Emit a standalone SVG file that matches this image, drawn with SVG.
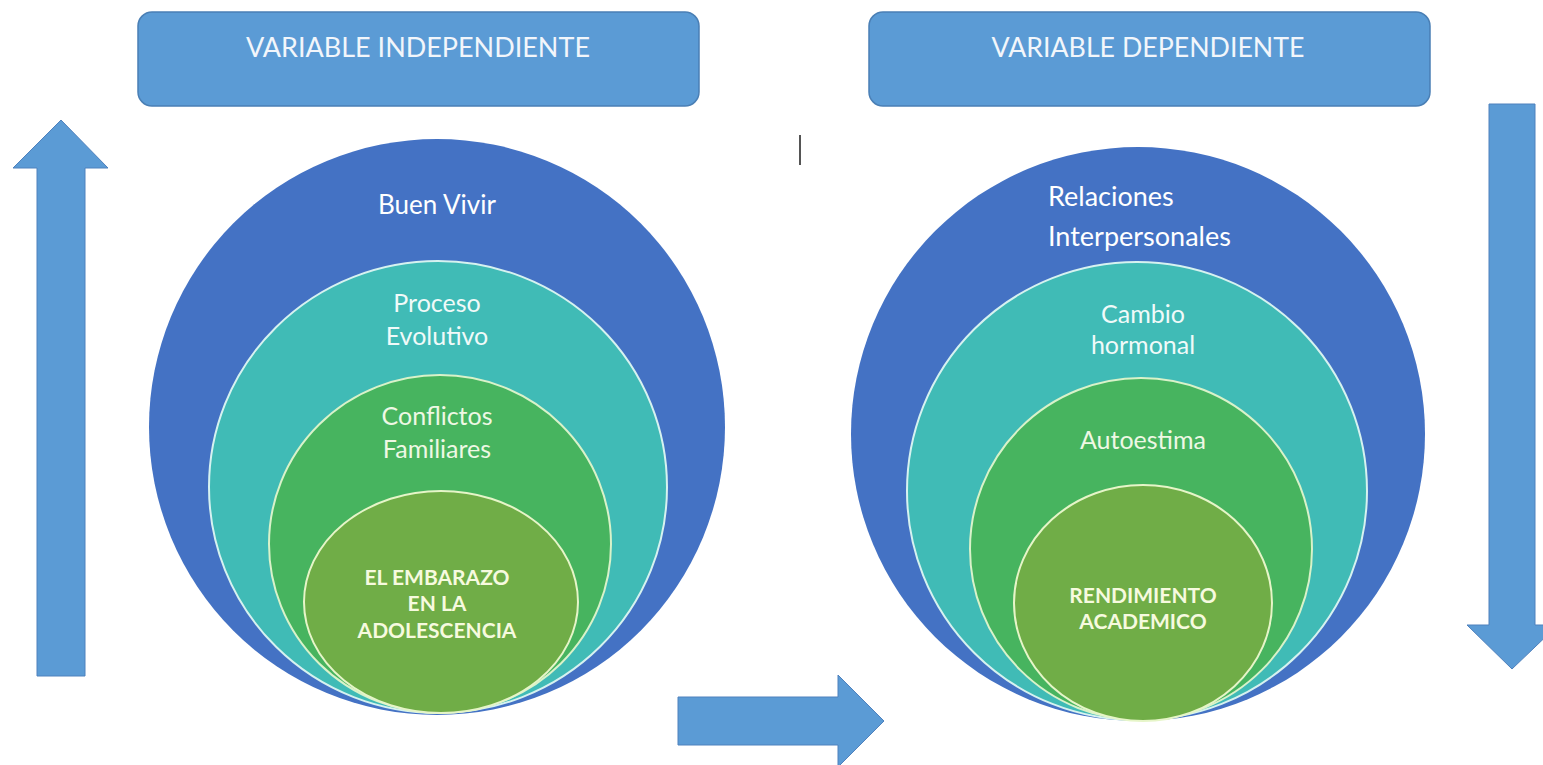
<svg xmlns="http://www.w3.org/2000/svg" width="1543" height="765" viewBox="0 0 1543 765">
  <style>
    .hdr { fill: #5B9BD5; stroke: #4A7FB5; stroke-width: 1.5; }
    .arrow { fill: #5B9BD5; stroke: #4F81BD; stroke-width: 1; }
    .c1 { fill: #4472C4; }
    .c2 { fill: #40BBB6; stroke: #D6F2F0; stroke-width: 2; }
    .c3 { fill: #47B45F; stroke: #D9F2C9; stroke-width: 2; }
    .c4 { fill: #70AD47; stroke: #E6F5C8; stroke-width: 2; }
    text { font-family: Lato, "Open Sans", "Liberation Sans", sans-serif; text-anchor: middle; }
    .ht { fill: #F2F6FB; font-size: 27px; }
    .t1 { fill: #FFFFFF; font-size: 26px; }
    .t1b { fill: #FFFFFF; font-size: 27px; text-anchor: start; }
    .t2 { fill: #F0FAF9; font-size: 25px; }
    .t3 { fill: #EEF8E4; font-size: 25px; }
    .t4 { fill: #F6FADF; font-size: 21px; font-weight: bold; }
  </style>
  <rect width="1543" height="765" fill="#FFFFFF"/>

  <g id="header-independiente">
    <rect class="hdr" x="138" y="12" width="561" height="94" rx="14"/>
    <text class="ht" x="418" y="57" textLength="344" lengthAdjust="spacingAndGlyphs">VARIABLE INDEPENDIENTE</text>
  </g>
  <g id="header-dependiente">
    <rect class="hdr" x="869" y="12" width="561" height="94" rx="14"/>
    <text class="ht" x="1148" y="57" textLength="313" lengthAdjust="spacingAndGlyphs">VARIABLE DEPENDIENTE</text>
  </g>

  <g id="connectors">
    <polygon class="arrow" points="37,676 37,168 13,168 61,120 108,168 85,168 85,676"/>
    <polygon class="arrow" points="1489,104 1535,104 1535,625 1558,625 1512,669 1467,625 1489,625"/>
    <polygon class="arrow" points="678,697 838,697 838,675 884,721 838,767 838,745 678,745"/>
  </g>

  <line x1="800" y1="135" x2="800" y2="165" stroke="#555555" stroke-width="2"/>

  <g id="left-circles">
    <g id="buen-vivir">
      <circle class="c1" cx="437" cy="427" r="288"/>
      <text class="t1" x="437" y="214">Buen Vivir</text>
    </g>
    <g id="proceso-evolutivo">
      <ellipse class="c2" cx="438" cy="487" rx="229" ry="226"/>
      <text class="t2" x="437" y="312">Proceso</text>
      <text class="t2" x="437" y="345">Evolutivo</text>
    </g>
    <g id="conflictos-familiares">
      <ellipse class="c3" cx="440" cy="544" rx="171" ry="169"/>
      <text class="t3" x="437" y="425">Conflictos</text>
      <text class="t3" x="437" y="458">Familiares</text>
    </g>
    <g id="embarazo">
      <ellipse class="c4" cx="441" cy="602" rx="137" ry="111"/>
      <text class="t4" x="437" y="585">EL EMBARAZO</text>
      <text class="t4" x="437" y="611">EN LA</text>
      <text class="t4" x="437" y="638">ADOLESCENCIA</text>
    </g>
  </g>

  <g id="right-circles">
    <g id="relaciones">
      <circle class="c1" cx="1138" cy="434" r="287"/>
      <text class="t1b" x="1048" y="206">Relaciones</text>
      <text class="t1b" x="1048" y="246">Interpersonales</text>
    </g>
    <g id="cambio-hormonal">
      <ellipse class="c2" cx="1137" cy="491" rx="230" ry="229"/>
      <text class="t2" x="1143" y="323">Cambio</text>
      <text class="t2" x="1143" y="354">hormonal</text>
    </g>
    <g id="autoestima">
      <ellipse class="c3" cx="1141" cy="549" rx="171" ry="171"/>
      <text class="t3" x="1143" y="449">Autoestima</text>
    </g>
    <g id="rendimiento">
      <ellipse class="c4" cx="1143" cy="603" rx="129" ry="118"/>
      <text class="t4" x="1143" y="603">RENDIMIENTO</text>
      <text class="t4" x="1143" y="629">ACADEMICO</text>
    </g>
  </g>
</svg>
